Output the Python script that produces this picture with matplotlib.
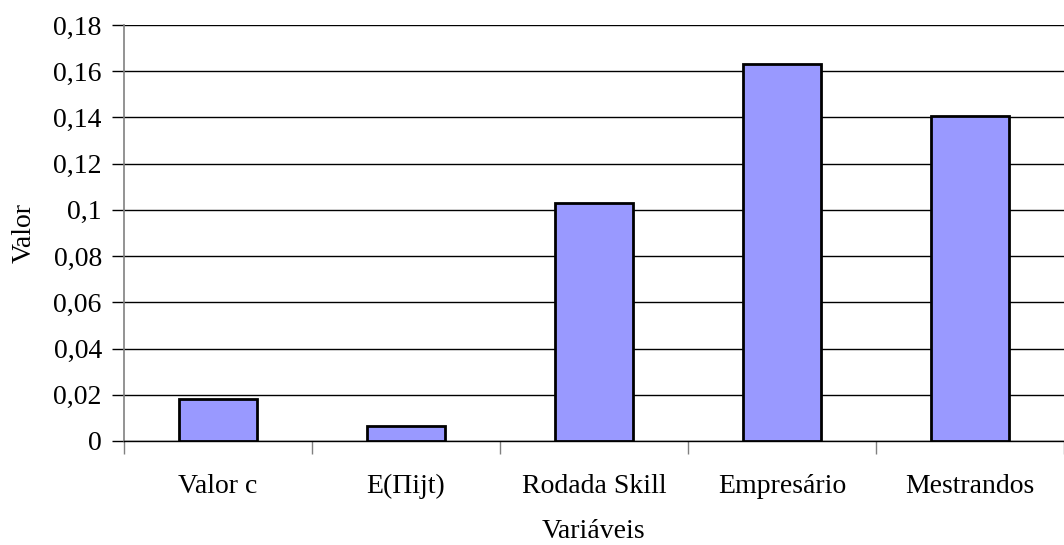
import matplotlib
matplotlib.use("Agg")
import matplotlib.pyplot as plt
import numpy as np

categories = ["Valor c", "E(\u03A0ijt)", "Rodada Skill", "Empresário", "Mestrandos"]
values = [0.0182, 0.0065, 0.103, 0.163, 0.1408]
yticks = [0, 0.02, 0.04, 0.06, 0.08, 0.1, 0.12, 0.14, 0.16, 0.18]
ytick_labels = ["0", "0,02", "0,04", "0,06", "0,08", "0,1", "0,12", "0,14", "0,16", "0,18"]

plt.rcParams['font.family'] = ['Liberation Serif', 'DejaVu Serif']

fig = plt.figure(figsize=(10.64, 5.45), dpi=100)
W, H = 1064, 545
ax = fig.add_axes([124 / W, (H - 441) / H, (1064 - 124) / W, (441 - 25) / H])

x = np.arange(len(categories))
ax.bar(x, values, width=0.41, color="#9999FF", edgecolor="black", linewidth=2, zorder=3)

ax.set_xlim(-0.5, len(categories) - 0.5)
ax.set_ylim(0, 0.18)
ax.set_yticks(yticks)
ax.set_yticklabels(ytick_labels, fontsize=20)
ax.yaxis.grid(True, color="black", linewidth=1)
ax.set_axisbelow(True)

ax.set_xticks(x)
ax.set_xticklabels(categories, fontsize=20)
ax.set_xticks(np.arange(len(categories) + 1) - 0.5, minor=True)
ax.tick_params(axis="x", which="major", length=0, pad=24)
ax.tick_params(axis="x", which="minor", length=9, width=1, color="#808080")
ax.tick_params(axis="y", length=9, width=1, color="black", pad=7)

for s in ["top", "right"]:
    ax.spines[s].set_visible(False)
ax.spines["left"].set_color("#808080")
ax.spines["left"].set_linewidth(1.2)
ax.spines["bottom"].set_color("black")
ax.spines["bottom"].set_linewidth(1)

ax.set_ylabel("Valor", fontsize=20, labelpad=12)
ax.set_xlabel("Variáveis", fontsize=20, labelpad=14)

fig.savefig("out.png", dpi=100)
